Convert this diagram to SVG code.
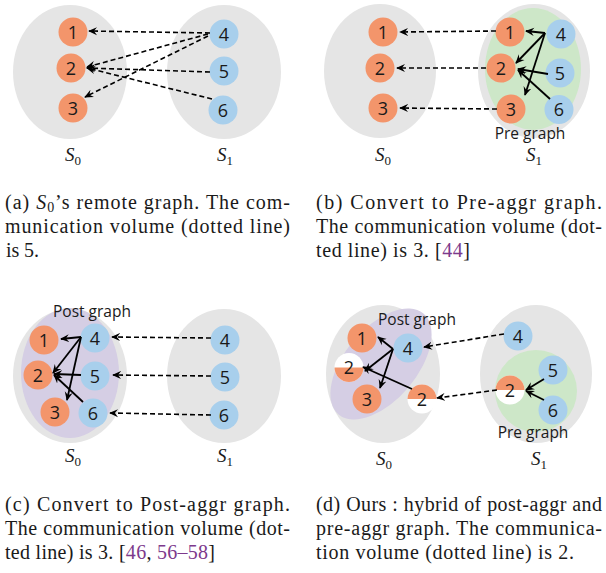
<svg xmlns="http://www.w3.org/2000/svg" width="606" height="573" viewBox="0 0 606 573">
<style>
.bg{fill:#e5e5e5}
.gr{fill:#cde7c8}
.pu{fill:#d5cee4}
.o{fill:#f3956b}
.b{fill:#a8cfec}
.w{fill:#ffffff}
.n{font-family:"Open Sans","Noto Sans",sans-serif;font-size:18px;text-anchor:middle;fill:#1a1a1a}
.lbl{font-family:"Open Sans","Noto Sans",sans-serif;font-size:15.5px;text-anchor:middle;fill:#1a1a1a}
.s{font-family:"Liberation Serif",serif;font-size:19px;font-style:italic;fill:#1a1a1a}
.sub{font-style:normal;font-size:13px}
.cap{font-family:"Liberation Serif",serif;font-size:20px;fill:#1a1a1a}
.cit{fill:#7d3a8c}
.d{stroke:#000;stroke-width:1.6;stroke-dasharray:5 3;fill:none;marker-end:url(#ah)}
.l{stroke:#000;stroke-width:1.8;fill:none;marker-end:url(#ah)}
</style>
<defs>
<marker id="ah" viewBox="0 0 10 10" refX="9" refY="5" markerWidth="9" markerHeight="9" markerUnits="userSpaceOnUse" orient="auto">
<path d="M0,0.5 L10,5 L0,9.5 L3.5,5 z" fill="#000"/>
</marker>
</defs>

<!-- Panel (a) -->
<g id="a-S0"><ellipse class="bg" cx="70" cy="72" rx="57" ry="67"/></g>
<g id="a-S1"><ellipse class="bg" cx="224" cy="72" rx="57" ry="67"/></g>
<g id="a-n1"><circle class="o" cx="73" cy="32" r="14.5"/><text class="n" x="73" y="38.5">1</text></g>
<g id="a-n2"><circle class="o" cx="71" cy="68" r="14.5"/><text class="n" x="71" y="74.5">2</text></g>
<g id="a-n3"><circle class="o" cx="73" cy="108" r="14.5"/><text class="n" x="73" y="114.5">3</text></g>
<g id="a-n4"><circle class="b" cx="224" cy="34" r="14.5"/><text class="n" x="224" y="40.5">4</text></g>
<g id="a-n5"><circle class="b" cx="224" cy="71" r="14.5"/><text class="n" x="224" y="77.5">5</text></g>
<g id="a-n6"><circle class="b" cx="223" cy="110" r="14.5"/><text class="n" x="223" y="116.5">6</text></g>
<g id="a-edges">
<line class="d" x1="210" y1="33" x2="89" y2="31"/>
<line class="d" x1="208" y1="34" x2="87" y2="67"/>
<line class="d" x1="208" y1="36" x2="85" y2="97"/>
<line class="d" x1="210" y1="72" x2="87" y2="68"/>
<line class="d" x1="212" y1="99" x2="87" y2="68"/>
</g>
<text class="s" x="65" y="161">S<tspan class="sub" dy="4">0</tspan></text>
<text class="s" x="217" y="161">S<tspan class="sub" dy="4">1</tspan></text>

<!-- Panel (b) -->
<g id="b-S0"><ellipse class="bg" cx="380" cy="71" rx="56" ry="67"/></g>
<g id="b-S1"><ellipse class="bg" cx="534" cy="71" rx="56" ry="67"/><ellipse class="gr" cx="533" cy="69" rx="48" ry="61"/></g>
<g id="b-n1"><circle class="o" cx="383" cy="32" r="14.5"/><text class="n" x="383" y="38.5">1</text></g>
<g id="b-n2"><circle class="o" cx="380" cy="68" r="14.5"/><text class="n" x="380" y="74.5">2</text></g>
<g id="b-n3"><circle class="o" cx="383" cy="108" r="14.5"/><text class="n" x="383" y="114.5">3</text></g>
<g id="b-p1"><circle class="o" cx="510" cy="32" r="14.5"/><text class="n" x="510" y="38.5">1</text></g>
<g id="b-p2"><circle class="o" cx="501" cy="68" r="14.5"/><text class="n" x="501" y="74.5">2</text></g>
<g id="b-p3"><circle class="o" cx="511" cy="109" r="14.5"/><text class="n" x="511" y="115.5">3</text></g>
<g id="b-n4"><circle class="b" cx="561" cy="34" r="14.5"/><text class="n" x="561" y="40.5">4</text></g>
<g id="b-n5"><circle class="b" cx="560" cy="73" r="14.5"/><text class="n" x="560" y="79.5">5</text></g>
<g id="b-n6"><circle class="b" cx="559" cy="109.5" r="14.5"/><text class="n" x="559" y="116">6</text></g>
<text class="lbl" x="530" y="138.5">Pre graph</text>
<g id="b-edges">
<line class="d" x1="496" y1="31" x2="400" y2="32"/>
<line class="d" x1="486" y1="68" x2="397" y2="68"/>
<line class="d" x1="497" y1="109" x2="400" y2="108"/>
<line class="l" x1="545" y1="33" x2="526" y2="31"/>
<line class="l" x1="545" y1="33" x2="516" y2="63"/>
<line class="l" x1="545" y1="33" x2="525" y2="95"/>
<line class="l" x1="548" y1="74" x2="518" y2="69"/>
<line class="l" x1="550" y1="99" x2="518" y2="70"/>
</g>
<text class="s" x="375" y="161">S<tspan class="sub" dy="4">0</tspan></text>
<text class="s" x="526" y="161">S<tspan class="sub" dy="4">1</tspan></text>

<!-- Panel (c) -->
<g id="c-S0"><ellipse class="bg" cx="70" cy="376" rx="57" ry="67"/><ellipse class="pu" cx="70" cy="373" rx="49" ry="65"/></g>
<g id="c-S1"><ellipse class="bg" cx="224" cy="376" rx="57" ry="67"/></g>
<text class="lbl" x="92" y="317">Post graph</text>
<g id="c-n1"><circle class="o" cx="44" cy="340" r="14.5"/><text class="n" x="44" y="346.5">1</text></g>
<g id="c-n2"><circle class="o" cx="38" cy="375" r="14.5"/><text class="n" x="38" y="381.5">2</text></g>
<g id="c-n3"><circle class="o" cx="55" cy="412" r="14.5"/><text class="n" x="55" y="418.5">3</text></g>
<g id="c-m4"><circle class="b" cx="95" cy="338" r="14.5"/><text class="n" x="95" y="344.5">4</text></g>
<g id="c-m5"><circle class="b" cx="95" cy="376" r="14.5"/><text class="n" x="95" y="382.5">5</text></g>
<g id="c-m6"><circle class="b" cx="93" cy="413" r="14.5"/><text class="n" x="93" y="419.5">6</text></g>
<g id="c-n4"><circle class="b" cx="225" cy="340" r="14.5"/><text class="n" x="225" y="346.5">4</text></g>
<g id="c-n5"><circle class="b" cx="225" cy="377" r="14.5"/><text class="n" x="225" y="383.5">5</text></g>
<g id="c-n6"><circle class="b" cx="224" cy="415" r="14.5"/><text class="n" x="224" y="421.5">6</text></g>
<g id="c-edges">
<line class="d" x1="211" y1="338" x2="112" y2="337"/>
<line class="d" x1="211" y1="376" x2="113" y2="375"/>
<line class="d" x1="211" y1="415" x2="110" y2="413"/>
<line class="l" x1="81" y1="337" x2="61" y2="339"/>
<line class="l" x1="81" y1="337" x2="53" y2="373"/>
<line class="l" x1="81" y1="337" x2="67" y2="400"/>
<line class="l" x1="81" y1="375" x2="54" y2="374"/>
<line class="l" x1="83" y1="402" x2="54" y2="375"/>
</g>
<text class="s" x="65" y="462">S<tspan class="sub" dy="4">0</tspan></text>
<text class="s" x="217" y="462">S<tspan class="sub" dy="4">1</tspan></text>

<!-- Panel (d) -->
<g id="d-S0"><ellipse class="bg" cx="383" cy="374" rx="57" ry="69"/><ellipse class="pu" cx="381" cy="364" rx="66" ry="36" transform="rotate(-50 381 364)"/></g>
<g id="d-S1"><ellipse class="bg" cx="536" cy="374" rx="56" ry="69"/><ellipse class="gr" cx="536" cy="391" rx="41" ry="41"/></g>
<text class="lbl" x="417" y="325">Post graph</text>
<text class="lbl" x="533" y="438">Pre graph</text>
<g id="d-n1"><circle class="o" cx="362" cy="338" r="14.5"/><text class="n" x="362" y="344.5">1</text></g>
<g id="d-n2"><circle class="w" cx="349" cy="367.5" r="14.5"/><path class="o" d="M334.5,367.5 A14.5,14.5 0 0 0 363.5,367.5 Z"/><text class="n" x="349" y="374">2</text></g>
<g id="d-n3"><circle class="o" cx="367" cy="399" r="14.5"/><text class="n" x="367" y="405.5">3</text></g>
<g id="d-m4"><circle class="b" cx="408" cy="348" r="14.5"/><text class="n" x="408" y="354.5">4</text></g>
<g id="d-r2"><circle class="w" cx="422" cy="399" r="14.5"/><path class="o" d="M407.5,399 A14.5,14.5 0 0 1 436.5,399 Z"/><text class="n" x="422" y="405.5">2</text></g>
<g id="d-n4"><circle class="b" cx="518" cy="336" r="14.5"/><text class="n" x="518" y="342.5">4</text></g>
<g id="d-n5"><circle class="b" cx="553" cy="370" r="14.5"/><text class="n" x="553" y="376.5">5</text></g>
<g id="d-p2"><circle class="w" cx="510" cy="390" r="14.5"/><path class="o" d="M495.5,390 A14.5,14.5 0 0 1 524.5,390 Z"/><text class="n" x="510" y="396.5">2</text></g>
<g id="d-n6"><circle class="b" cx="553" cy="410" r="14.5"/><text class="n" x="553" y="416.5">6</text></g>
<g id="d-edges">
<line class="d" x1="504" y1="334" x2="424" y2="347"/>
<line class="d" x1="497" y1="390" x2="437" y2="398"/>
<line class="l" x1="393" y1="349" x2="378" y2="337"/>
<line class="l" x1="393" y1="349" x2="365" y2="371"/>
<line class="l" x1="393" y1="349" x2="380" y2="388"/>
<line class="l" x1="412" y1="389" x2="363" y2="367"/>
<line class="l" x1="544" y1="379" x2="526" y2="390"/>
<line class="l" x1="544" y1="400" x2="526" y2="391"/>
</g>
<text class="s" x="376" y="465">S<tspan class="sub" dy="4">0</tspan></text>
<text class="s" x="531" y="465">S<tspan class="sub" dy="4">1</tspan></text>

<!-- Captions -->
<g id="captions">
<text class="cap" x="5" y="209" textLength="285" lengthAdjust="spacing">(a)  <tspan font-style="italic">S</tspan><tspan font-size="14" dy="3">0</tspan><tspan dy="-3">’s remote graph. The com-</tspan></text>
<text class="cap" x="5" y="233" textLength="285" lengthAdjust="spacing">munication volume (dotted line)</text>
<text class="cap" x="6" y="257" textLength="33" lengthAdjust="spacing">is 5.</text>
<text class="cap" x="316" y="209" textLength="286" lengthAdjust="spacing">(b)  Convert to Pre-aggr graph.</text>
<text class="cap" x="316" y="233" textLength="286" lengthAdjust="spacing">The communication volume (dot-</text>
<text class="cap" x="316" y="257" textLength="154" lengthAdjust="spacing">ted line) is 3. [<tspan class="cit">44</tspan>]</text>
<text class="cap" x="5" y="511" textLength="285" lengthAdjust="spacing">(c)  Convert to Post-aggr graph.</text>
<text class="cap" x="5" y="535" textLength="285" lengthAdjust="spacing">The communication volume (dot-</text>
<text class="cap" x="5" y="559" textLength="210" lengthAdjust="spacing">ted line) is 3. [<tspan class="cit">46</tspan>, <tspan class="cit">56–58</tspan>]</text>
<text class="cap" x="316" y="511" textLength="286" lengthAdjust="spacing">(d)  Ours : hybrid of post-aggr and</text>
<text class="cap" x="316" y="535" textLength="286" lengthAdjust="spacing">pre-aggr graph. The communica-</text>
<text class="cap" x="316" y="559" textLength="258" lengthAdjust="spacing">tion volume (dotted line) is 2.</text>
</g>
</svg>
